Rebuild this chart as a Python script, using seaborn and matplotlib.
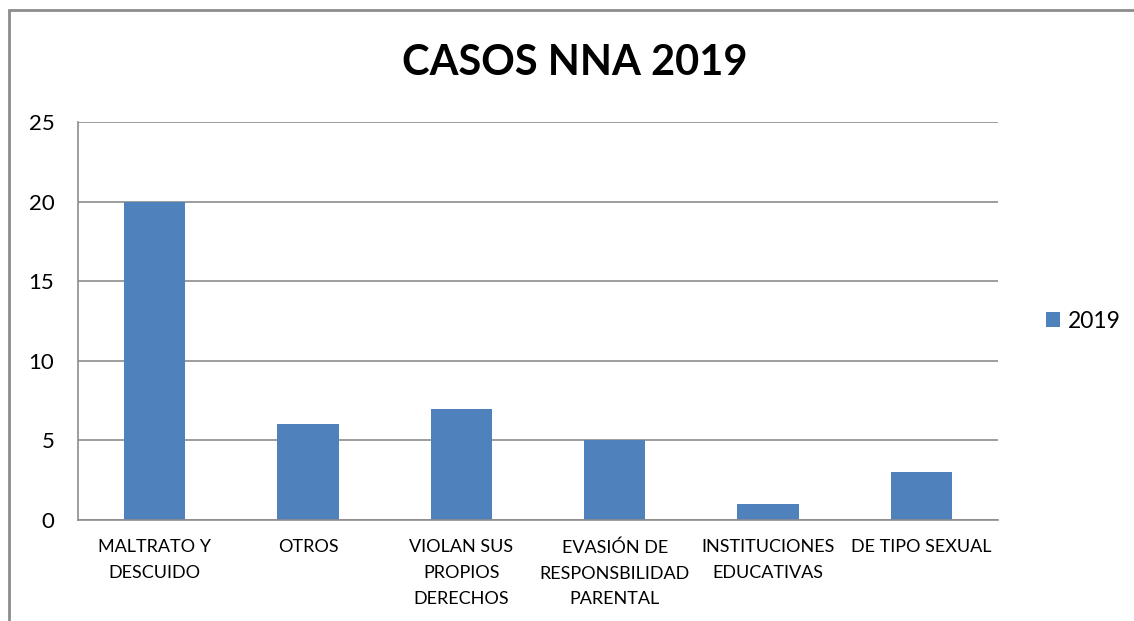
import matplotlib.pyplot as plt
import matplotlib.patches as mpatches
import seaborn as sns
import pandas as pd

categories = ["MALTRATO Y\nDESCUIDO", "OTROS", "VIOLAN SUS\nPROPIOS\nDERECHOS",
              "EVASIÓN DE\nRESPONSBILIDAD\nPARENTAL", "INSTITUCIONES\nEDUCATIVAS",
              "DE TIPO SEXUAL"]
casos = [20, 6, 7, 5, 1, 3]
series = ["2019"] * len(categories)

df = pd.DataFrame({"categoria": categories, "casos": casos, "serie": series})

sns.set_style("white")
plt.rcParams['font.family'] = ['Lato', 'DejaVu Sans']
plt.rcParams['text.color'] = 'black'
plt.rcParams['xtick.color'] = 'black'
plt.rcParams['ytick.color'] = 'black'

fig = plt.figure(figsize=(11.34, 6.21), dpi=100)
ax = fig.add_axes([78 / 1134, 1 - 520 / 621, 920 / 1134, 398 / 621])

sns.barplot(data=df, x="categoria", y="casos", hue="serie", palette=["#4F81BD"],
            width=0.4, ax=ax, saturation=1, linewidth=0)

ax.set_ylim(0, 25)
ax.set_xlim(-0.5, len(categories) - 0.5)
ax.set_yticks(range(0, 26, 5))
ax.yaxis.grid(True, color="#8c8c8c", linewidth=1.2)
ax.set_axisbelow(True)
ax.set_xlabel("")
ax.set_ylabel("")

for s in ["top", "right"]:
    ax.spines[s].set_visible(False)
for s in ["left", "bottom"]:
    ax.spines[s].set_color("#8c8c8c")
    ax.spines[s].set_linewidth(1.2)

# category boundary ticks
ax.set_xticks([i - 0.5 for i in range(len(categories) + 1)], minor=True)
ax.tick_params(axis="x", which="minor", length=7, color="#8c8c8c", width=1.2)
ax.tick_params(axis="x", which="major", length=0, labelsize=13, pad=14)
ax.tick_params(axis="y", length=7, color="#8c8c8c", width=1.2, labelsize=16, pad=10,
               labelcolor="black")
ax.set_xticklabels(categories, linespacing=1.75)

leg = ax.legend(loc="center left", bbox_to_anchor=(1.03, 0.5), frameon=False,
                fontsize=16.5, handlelength=0.6, handleheight=0.6, handletextpad=0.35)

fig.text(575 / 1134, 1 - 63 / 621, "CASOS NNA 2019", fontsize=30, fontweight="bold",
         ha="center", va="center", color="black")

# outer chart frame (partly cropped in original)
frame = mpatches.Rectangle((9 / 1134, -0.1), 1.2, 1 - 10 / 621 + 0.1,
                           transform=fig.transFigure, fill=False,
                           edgecolor="#8c8c8c", linewidth=2)
fig.patches.append(frame)

fig.savefig("out.png", dpi=100)
